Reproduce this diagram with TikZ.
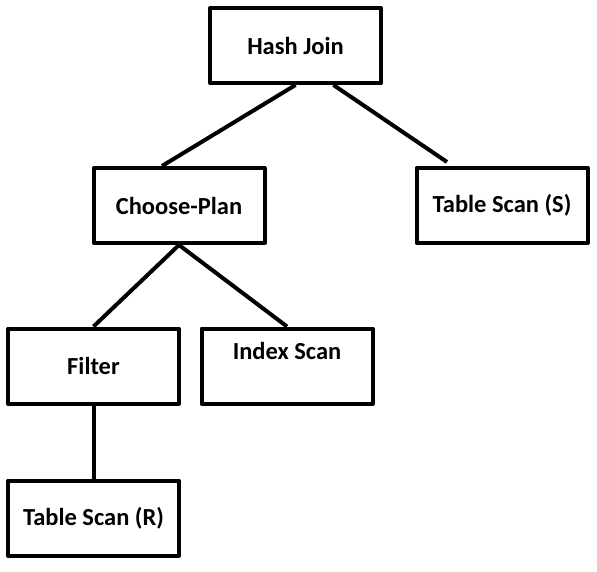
\documentclass[tikz,border=0pt]{standalone}
\usepackage{fontspec}
\setmainfont{Carlito}
\usetikzlibrary{calc,positioning}

\begin{document}
\begin{tikzpicture}[x=1pt, y=-1pt, line width=4pt, line join=round,
		opbox/.style={draw,rectangle,minimum width=171pt,minimum height=75pt,
		inner sep=0pt,font=\bfseries\fontsize{24.5}{29}\selectfont}]
	\useasboundingbox (0, 0) rectangle (597, 571);
	\node[opbox] (0) at (295.5, 45.5) {Hash Join};
	\node[opbox] (1) at (179, 205.5) {Choose-Plan};
	\node[opbox] (2) at (502, 205.5) {Table Scan (S)};
	\node[opbox] (3) at (93.5, 366) {Filter};
	\node[opbox, text height=18pt, text depth=31pt] (4) at (287, 366) {Index Scan};
	\node[opbox] (5) at (93.5, 518) {Table Scan (R)};
	\draw (0.south) to ($(1.north)+(-17, 0)$);
	\draw ($(0.south)+(38, 0)$) to ($(2.north)+(-55, -4)$);
	\draw (1.south) to (3.north);
	\draw (1.south) to (4.north);
	\draw (3) to (5);
\end{tikzpicture}
\end{document}
